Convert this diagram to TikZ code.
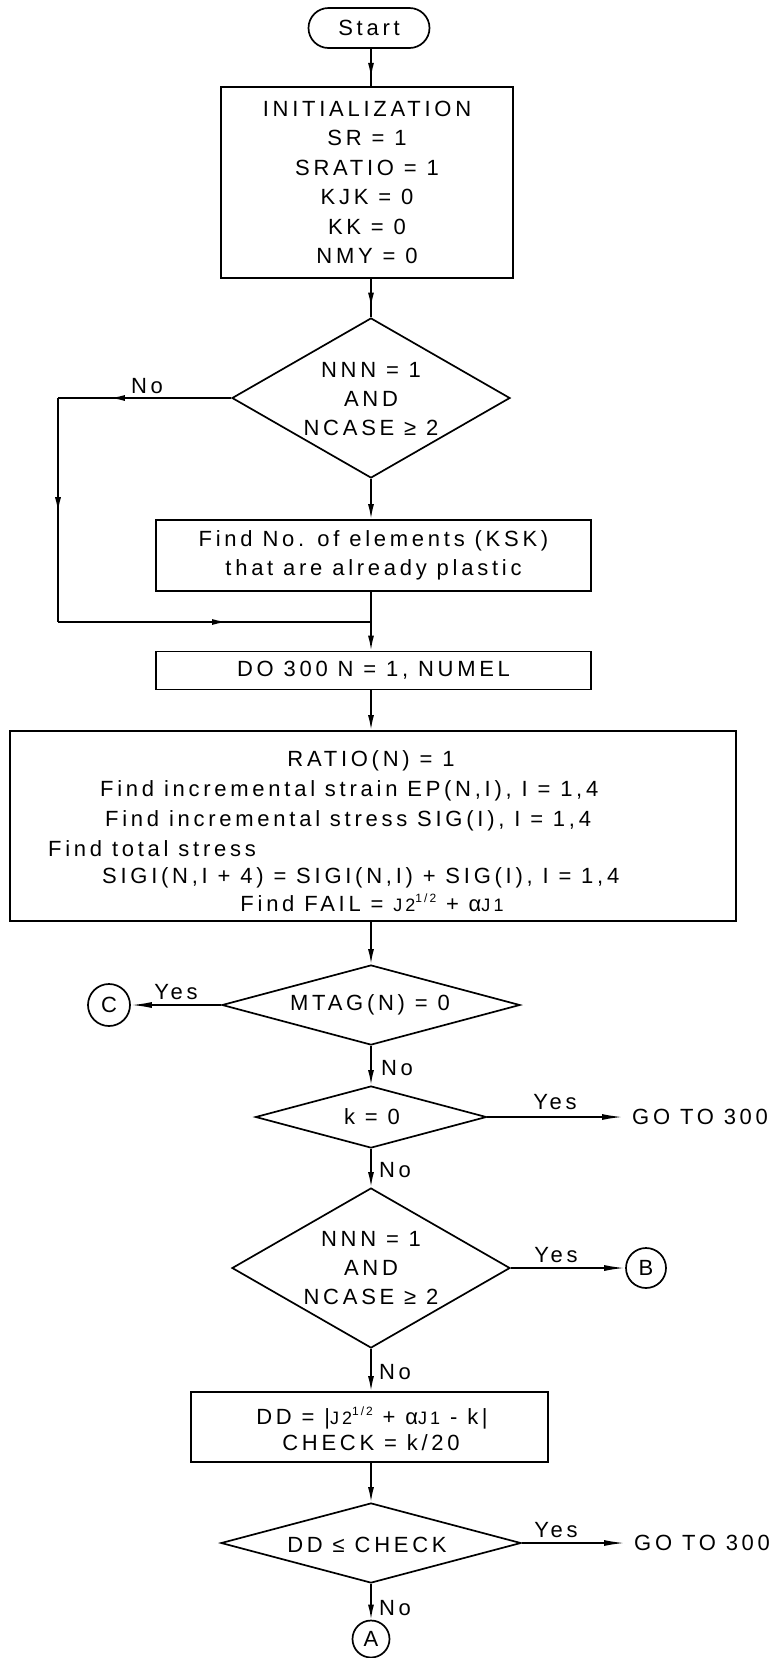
\documentclass[tikz,border=0pt]{standalone}
\usepackage{fontspec}
\setmainfont{Liberation Sans}[LetterSpace=17]
\usetikzlibrary{arrows.meta,decorations.markings,shapes.geometric}
\newcommand{\jtwo}{{\fontsize{18}{18}\selectfont J2}\raisebox{9pt}{\fontsize{12}{12}\selectfont 1/2}}
\newcommand{\jone}{{\fontsize{18}{18}\selectfont J1}}
\begin{document}
\begin{tikzpicture}[x=1pt,y=-1pt,
  every node/.style={font=\fontsize{22}{29.4}\selectfont, inner sep=0pt},
  ln/.style={line width=1.7pt},
  boxn/.style={draw, line width=1.7pt, rectangle},
  dian/.style={draw, line width=1.7pt, diamond, inner sep=0pt},
  conn/.style={draw, circle, line width=1.7pt, inner sep=0pt, minimum size=40pt},
  arr/.style={line width=1.7pt, -{Latex[length=15pt,width=6pt]}},
  harr/.style={line width=1.7pt, -{Latex[length=21pt,width=6pt]}},
  marr/.style={line width=1.7pt, postaction={decorate},
    decoration={markings, mark=at position #1 with {\arrow{Latex[length=15pt,width=6pt]}}}},
]
\useasboundingbox (0,0) rectangle (781,1658);

% nodes
\node[boxn, rounded corners=20pt, minimum width=121pt, minimum height=40pt] (start) at (369,28) {Start};
\node[boxn, minimum width=292pt, minimum height=191pt, align=center] (init) at (367,182.5)
  {INITIALIZATION\\SR = 1\\SRATIO = 1\\KJK = 0\\KK = 0\\NMY = 0};
\node[dian, minimum width=278pt, minimum height=160pt] (d1) at (371,398) {};
\node[align=center] (d1t) at (371,399) {NNN = 1\\AND\\NCASE ≥ 2};
\node[boxn, minimum width=435pt, minimum height=71pt, align=center] (find) at (373.5,555.5)
  {Find No. of elements (KSK)\\that are already plastic};
\coordinate (j) at (371,622);
\coordinate (nl1) at (58,398);
\coordinate (nl2) at (58,622);
\node[boxn, minimum width=435pt, minimum height=38pt] (do) at (373.5,670.5) {DO 300 N = 1, NUMEL};
\node[boxn, minimum width=726pt, minimum height=190pt] (big) at (373,826) {};
\node[anchor=base] (b1) at (371,766.5) {RATIO(N) = 1};
\node[anchor=base west] (b2) at (100,796.5) {Find incremental strain EP(N,I), I = 1,4};
\node[anchor=base west] (b3) at (105,826.5) {Find incremental stress SIG(I), I = 1,4};
\node[anchor=base west] (b4) at (48,856.5) {Find total stress};
\node[anchor=base west] (b5) at (102,883.5) {SIGI(N,I + 4) = SIGI(N,I) + SIG(I), I = 1,4};
\node[anchor=base] (b6) at (372,911.5) {Find FAIL = \jtwo{} + α\jone};

\node[dian, minimum width=298pt, minimum height=80pt] (dm) at (371,1005) {};
\node (dmt) at (370,1005) {MTAG(N) = 0};
\node[conn, minimum size=42pt] (C) at (109,1005) {C};
\node[dian, minimum width=231pt, minimum height=62pt] (dk) at (371,1117) {};
\node (dkt) at (372,1117) {k = 0};
\node[anchor=west] (g1) at (632,1117) {GO TO 300};
\node[dian, minimum width=278pt, minimum height=160pt] (d2) at (371,1268) {};
\node[align=center] (d2t) at (371,1268) {NNN = 1\\AND\\NCASE ≥ 2};
\node[conn] (B) at (646,1268) {B};
\node[boxn, minimum width=357pt, minimum height=70pt] (dd) at (369.5,1427) {};
\node[anchor=base] (dd1) at (372,1424.5) {DD = |\jtwo{} + α\jone{} - k|};
\node[anchor=base] (dd2) at (371,1450.5) {CHECK = k/20};
\node[dian, minimum width=300pt, minimum height=80pt] (d3) at (371,1543) {};
\node (d3t) at (367,1545) {DD ≤ CHECK};
\node[anchor=west] (g2) at (634,1543) {GO TO 300};
\node[conn, minimum size=37pt] (A) at (371,1639) {A};

% labels
\node (lno1) at (147,386) {No};
\node (lyes1) at (176,992) {Yes};
\node (lno2) at (397,1068) {No};
\node (lyes2) at (555,1102) {Yes};
\node (lno3) at (395,1170) {No};
\node (lyes3) at (556,1255) {Yes};
\node (lno4) at (395,1372) {No};
\node (lyes4) at (556,1530) {Yes};
\node (lno5) at (395,1608) {No};

% connectors
\draw[marr=0.78] (start.south -| d1) -- (init.north -| d1);
\draw[marr=0.75] (init.south -| d1) -- (d1.north);
\draw[arr] (d1.south) -- (find.north -| d1);
\draw[ln] (find.south -| d1) -- (j);
\draw[arr] (j) -- (do.north -| d1);
\draw[marr=0.70] (d1.west) -- (nl1);
\draw[marr=0.51] (nl1) -- (nl2);
\draw[marr=0.54] (nl2) -- (j);
\draw[arr] (do.south -| d1) -- (big.north -| d1);
\draw[arr] (big.south -| d1) -- (dm.north);
\draw[harr] (dm.west) -- (C);
\draw[arr] (dm.south) -- (dk.north);
\draw[harr, shorten >=9pt] (dk.east) -- (dk.east -| g1.west);
\draw[arr] (dk.south) -- (d2.north);
\draw[harr] (d2.east) -- (B);
\draw[arr] (d2.south) -- (dd.north -| d2);
\draw[arr] (dd.south -| d2) -- (d3.north);
\draw[harr, shorten >=9pt] (d3.east) -- (d3.east -| g2.west);
\draw[arr] (d3.south) -- (A);
\end{tikzpicture}
\end{document}
